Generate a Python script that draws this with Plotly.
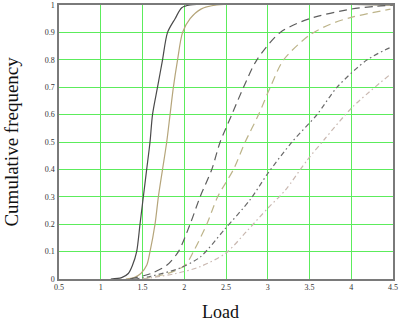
import plotly.graph_objects as go

# Data
solid_dark_x = [1.12, 1.25, 1.33, 1.38, 1.43, 1.47, 1.51, 1.55, 1.59, 1.62, 1.68, 1.74, 1.80, 1.89, 1.97, 2.07, 4.5]
solid_dark_y = [0, 0.005, 0.02, 0.05, 0.1, 0.2, 0.3, 0.4, 0.5, 0.6, 0.7, 0.8, 0.9, 0.95, 0.99, 1.0, 1.0]

solid_khaki_x = [1.3, 1.4, 1.48, 1.55, 1.59, 1.65, 1.69, 1.74, 1.79, 1.83, 1.87, 1.92, 1.98, 2.07, 2.2, 2.39, 4.5]
solid_khaki_y = [0, 0.005, 0.02, 0.05, 0.1, 0.2, 0.3, 0.4, 0.5, 0.6, 0.7, 0.8, 0.9, 0.95, 0.985, 1.0, 1.0]

dashed_dark_x = [1.35, 1.6, 1.79, 1.93, 2.07, 2.19, 2.33, 2.43, 2.57, 2.71, 2.87, 3.15, 3.5, 4.0, 4.3, 4.5]
dashed_dark_y = [0, 0.02, 0.05, 0.1, 0.2, 0.3, 0.4, 0.5, 0.6, 0.7, 0.8, 0.9, 0.95, 0.985, 0.995, 1.0]

dashed_khaki_x = [1.5, 1.8, 2.01, 2.11, 2.27, 2.40, 2.59, 2.73, 2.89, 3.03, 3.19, 3.5, 3.75, 4.0, 4.47]
dashed_khaki_y = [0, 0.02, 0.05, 0.1, 0.2, 0.3, 0.4, 0.5, 0.6, 0.7, 0.8, 0.89, 0.93, 0.955, 0.985]

dashdot_dark_x = [1.4, 1.6, 1.95, 2.19, 2.48, 2.79, 3.0, 3.29, 3.59, 3.83, 4.19, 4.47]
dashdot_dark_y = [0, 0.01, 0.04, 0.08, 0.18, 0.29, 0.385, 0.5, 0.6, 0.7, 0.8, 0.845]

dashdot_khaki_x = [1.5, 1.9, 2.19, 2.5, 2.75, 3.0, 3.21, 3.47, 3.68, 4.01, 4.48]
dashdot_khaki_y = [0, 0.02, 0.045, 0.095, 0.175, 0.258, 0.324, 0.433, 0.51, 0.626, 0.75]

x_ticks = [0.5, 1, 1.5, 2, 2.5, 3, 3.5, 4, 4.5]
x_tick_labels = ["0.5", "1", "1.5", "2", "2.5", "3", "3.5", "4", "4.5"]
y_ticks = [0, 0.1, 0.2, 0.3, 0.4, 0.5, 0.6, 0.7, 0.8, 0.9, 1]
y_tick_labels = ["0", "0.1", "0.2", "0.3", "0.4", "0.5", "0.6", "0.7", "0.8", "0.9", "1"]

series = [
    (solid_dark_x, solid_dark_y, "#4a4a4a", "solid"),
    (solid_khaki_x, solid_khaki_y, "#b5a57a", "solid"),
    (dashed_dark_x, dashed_dark_y, "#5e5e5e", "8px,5px"),
    (dashed_khaki_x, dashed_khaki_y, "#bdb48a", "8px,5px"),
    (dashdot_dark_x, dashdot_dark_y, "#6a6a6a", "5px,3px,1.5px,3px"),
    (dashdot_khaki_x, dashdot_khaki_y, "#c9b8b0", "5px,3px,1.5px,3px"),
]

fig = go.Figure()
for xs, ys, col, dash in series:
    fig.add_trace(go.Scatter(
        x=xs, y=ys, mode="lines",
        line=dict(color=col, width=1.2, dash=dash, shape="spline", smoothing=0.8),
        showlegend=False, hoverinfo="skip",
    ))

axis_common = dict(
    showgrid=True, gridcolor="#5cec5c", gridwidth=1.3,
    showline=True, linecolor="#7a7a7a", linewidth=1.5, mirror=True,
    zeroline=False, ticks="", ticklabeloverflow="allow",
    tickfont=dict(family="Liberation Serif, Times New Roman, serif", size=8, color="#333333"),
)

fig.update_xaxes(range=[0.5, 4.5], tickvals=x_ticks, ticktext=x_tick_labels,
                 ticklabelstandoff=0, **axis_common)
fig.update_yaxes(range=[0, 1], tickvals=y_ticks, ticktext=y_tick_labels,
                 ticklabelstandoff=1, **axis_common)

fig.add_annotation(
    text="Cumulative frequency", xref="paper", yref="paper",
    x=-0.145, y=0.5, textangle=-90, showarrow=False,
    font=dict(family="Liberation Serif, Times New Roman, serif", size=19, color="#111111"),
    xanchor="center", yanchor="middle",
)
fig.add_annotation(
    text="Load", xref="paper", yref="paper",
    x=0.485, y=-0.12, showarrow=False,
    font=dict(family="Liberation Serif, Times New Roman, serif", size=18, color="#111111"),
    xanchor="center", yanchor="middle",
)

fig.update_layout(
    width=400, height=321,
    margin=dict(l=59, r=7, t=5, b=42, autoexpand=False),
    paper_bgcolor="white", plot_bgcolor="white",
)

fig.write_html(
    "out.html",
    config={"displayModeBar": False},
    post_script="document.body.style.margin='0';document.body.style.padding='0';document.body.style.overflow='hidden';",
)
